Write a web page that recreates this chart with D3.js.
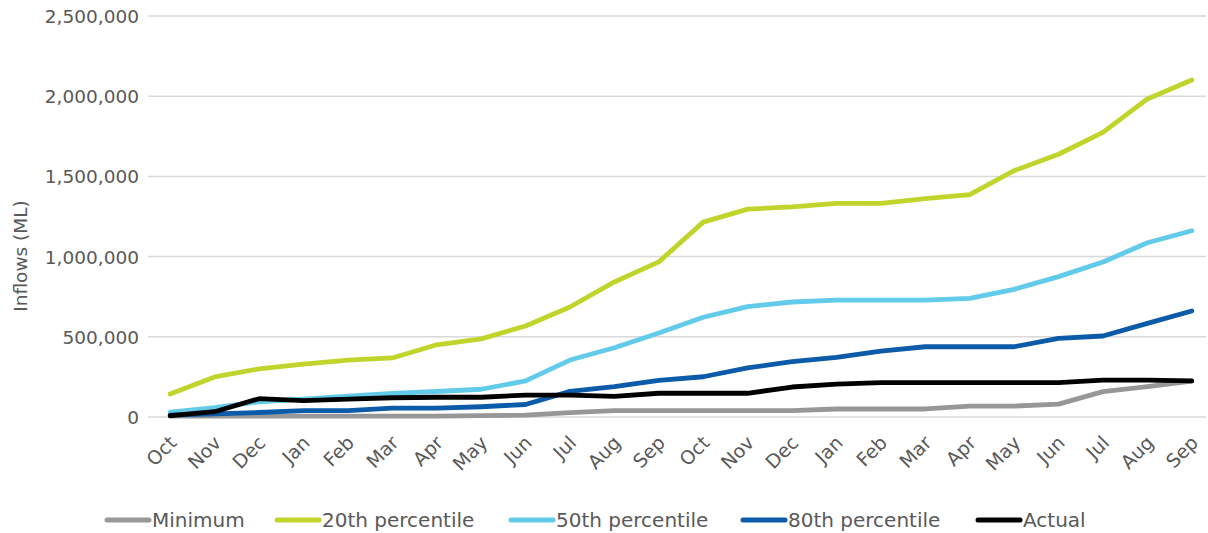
<!DOCTYPE html>
<html><head><meta charset="utf-8">
<script src="https://cdn.jsdelivr.net/npm/d3@7"></script>
<style>
html,body{margin:0;padding:0;background:#fff;}
svg{display:block;}
text{font-family:"DejaVu Sans",sans-serif;fill:#595959;}
</style></head>
<body>
<svg id="c" width="1208" height="533"></svg>
<script>
const months = ["Oct","Nov","Dec","Jan","Feb","Mar","Apr","May","Jun","Jul","Aug","Sep",
                "Oct","Nov","Dec","Jan","Feb","Mar","Apr","May","Jun","Jul","Aug","Sep"];
const minimum = [5000,5000,5000,5000,5000,5000,6000,8000,12000,27000,40000,40000,
                 40000,40000,40000,50000,50000,50000,68000,68000,80000,158000,189000,224000];
const p20 = [143000,250000,300000,330000,355000,368000,450000,487000,567000,686000,842000,967000,
             1215000,1296000,1310000,1332000,1332000,1362000,1387000,1536000,1638000,1774000,1983000,2101000];
const p50 = [31000,58000,95000,112000,130000,147000,159000,173000,225000,355000,432000,524000,
             622000,688000,717000,729000,729000,729000,740000,796000,875000,966000,1086000,1161000];
const p80 = [12000,20000,28000,40000,40000,55000,55000,64000,78000,160000,189000,228000,
             251000,306000,345000,372000,411000,438000,438000,438000,490000,505000,584000,661000];
const actual = [8000,33000,114000,102000,112000,120000,123000,123000,137000,137000,128000,148000,
                148000,148000,187000,205000,214000,214000,214000,214000,214000,230000,230000,225000];
const yTicks = [0,500000,1000000,1500000,2000000,2500000];
const seriesNames = ["Minimum","20th percentile","50th percentile","80th percentile","Actual"];
const seriesColors = ["#979797","#c0d42c","#62cbea","#0b5ba8","#000000"];
const seriesValues = [minimum,p20,p50,p80,actual];

const svg = d3.select("#c");
const x = d3.scalePoint().domain(d3.range(months.length)).range([148,1214]).padding(0.5);
const y = d3.scaleLinear().domain([0,2500000]).range([417,16]);

// gridlines
svg.append("g").selectAll("line").data(yTicks).join("line")
  .attr("x1",148).attr("x2",1206)
  .attr("y1",d=>y(d)).attr("y2",d=>y(d))
  .attr("stroke","#d9d9d9").attr("stroke-width",1.5);

// y axis labels
const yAxis = d3.axisLeft(y).tickValues(yTicks).tickSize(0).tickPadding(0)
  .tickFormat(d3.format(","));
const yg = svg.append("g").attr("transform","translate(139,0)").call(yAxis);
yg.select(".domain").remove();
yg.selectAll("text").style("font-size","18.5px").style("font-family","DejaVu Sans").attr("fill","#595959").attr("dy","0.35em");

// x axis labels
const xAxis = d3.axisBottom(x).tickSize(0).tickFormat(i=>months[i]);
const xg = svg.append("g").attr("transform","translate(0,417)").call(xAxis);
xg.select(".domain").remove();
xg.selectAll("text")
  .style("font-size","19px").style("font-family","DejaVu Sans").attr("fill","#595959")
  .attr("text-anchor","end").attr("y",0).attr("dy",0)
  .attr("transform","translate(7,27) rotate(-45)");

// y title
svg.append("text").attr("transform","translate(27,256) rotate(-90)")
  .attr("text-anchor","middle").style("font-size","18.5px").text("Inflows (ML)");

// lines
const line = d3.line().x((d,i)=>x(i)).y(d=>y(d));
svg.append("g").selectAll("path").data(seriesValues).join("path")
  .attr("d",d=>line(d)).attr("fill","none")
  .attr("stroke",(d,i)=>seriesColors[i]).attr("stroke-width",4.8)
  .attr("stroke-linejoin","round").attr("stroke-linecap","round");

// legend
const legX = [105,275,509,741,976];
const lg = svg.append("g").selectAll("g").data(seriesNames).join("g")
  .attr("transform",(d,i)=>`translate(${legX[i]},520)`);
lg.append("line").attr("x1",2).attr("x2",44).attr("y1",0).attr("y2",0)
  .attr("stroke",(d,i)=>seriesColors[i]).attr("stroke-width",5).attr("stroke-linecap","round");
lg.append("text").attr("x",47).attr("dy","0.35em").style("font-size","20px").text(d=>d);
</script>
</body></html>
